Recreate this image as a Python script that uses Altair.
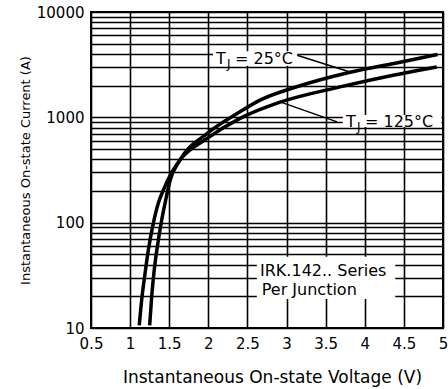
import altair as alt
import pandas as pd

# ---- data ----
v25 = [1.25, 1.276, 1.309, 1.348, 1.404, 1.455, 1.51, 1.638, 1.971, 2.405, 2.661, 3.13, 3.812, 4.451, 4.93]
i25 = [10.6, 20, 36, 59, 106, 164, 250, 394, 690, 1128, 1455, 1950, 2681, 3336, 3950]
v125 = [1.117, 1.148, 1.191, 1.233, 1.297, 1.361, 1.425, 1.536, 1.638, 1.971, 2.405, 2.917, 3.684, 4.362, 4.92]
i125 = [10.6, 18.5, 33, 55, 99, 154, 204, 303, 394, 621, 977, 1393, 1945, 2513, 3013]

x_ticks = [0.5, 1, 1.5, 2, 2.5, 3, 3.5, 4, 4.5, 5]
y_labels = [10, 100, 1000, 10000]
y_grid = [m * d for d in [10, 100, 1000] for m in range(1, 10)] + [10000]

FONT = "DejaVu Sans"

curves = pd.DataFrame(
    [{"V": v, "I": i, "s": "25"} for v, i in zip(v25, i25)]
    + [{"V": v, "I": i, "s": "125"} for v, i in zip(v125, i125)]
)

xs = alt.Scale(domain=[0.5, 5], nice=False, zero=False)
ys = alt.Scale(type="log", domain=[10, 10000], nice=False)

label_expr = "indexof([" + ",".join(str(v) for v in y_labels) + "], datum.value) >= 0 ? datum.label : ''"

xaxis = alt.Axis(
    values=x_ticks, format="~g", grid=True, ticks=False, domain=False, labelFlush=False,
    title="Instantaneous On-state Voltage (V)", titleX=181, titleY=49, titleBaseline="middle",
    titleFont=FONT, titleFontSize=17, titleFontWeight="normal", titleColor="black",
    labelFont=FONT, labelFontSize=15, labelColor="black", labelPadding=8,
    gridColor="black", gridWidth=1.6, gridOpacity=1)
yaxis = alt.Axis(
    values=y_grid, format="d", labelExpr=label_expr, grid=True, ticks=False, domain=False,
    labelFlush=False,
    title="Instantaneous On-state Current (A)", titleX=-66, titleY=158, titleAngle=270,
    titleAlign="center", titleBaseline="middle",
    titleFont=FONT, titleFontSize=13, titleFontWeight="normal", titleColor="black",
    labelFont=FONT, labelFontSize=15, labelColor="black", labelPadding=7,
    labelOverlap=False, gridColor="black", gridWidth=1.6, gridOpacity=1)

lines = alt.Chart(curves).mark_line(color="black", strokeWidth=3.5, interpolate="monotone", clip=True).encode(
    x=alt.X("V:Q", scale=xs, axis=xaxis),
    y=alt.Y("I:Q", scale=ys, axis=yaxis),
    detail="s:N",
    order="V:Q",
)

boxes = pd.DataFrame([
    {"x": 2.06, "x2": 3.14, "y": 3080, "y2": 4240},
    {"x": 3.72, "x2": 4.98, "y": 810, "y2": 1050},
    {"x": 2.62, "x2": 4.39, "y": 18.9, "y2": 47.5},
])
rects = alt.Chart(boxes).mark_rect(color="white").encode(
    x=alt.X("x:Q", scale=xs, axis=xaxis), x2="x2:Q",
    y=alt.Y("y:Q", scale=ys, axis=yaxis), y2="y2:Q",
)

leaders = pd.DataFrame([
    {"x": 3.134, "y": 3890, "x2": 3.812, "y2": 2699},
    {"x": 3.646, "y": 906, "x2": 2.917, "y2": 1403},
])
rules = alt.Chart(leaders).mark_rule(color="black", strokeWidth=1.5).encode(
    x=alt.X("x:Q", scale=xs, axis=xaxis), x2="x2:Q",
    y=alt.Y("y:Q", scale=ys, axis=yaxis), y2="y2:Q",
)

tlabels = pd.DataFrame([
    {"x": 2.098, "y": 3597, "rest": "= 25°C"},
    {"x": 3.76, "y": 906, "rest": "= 125°C"},
])
base_t = alt.Chart(tlabels).encode(
    x=alt.X("x:Q", scale=xs, axis=xaxis), y=alt.Y("y:Q", scale=ys, axis=yaxis))
t_T = base_t.mark_text(align="left", baseline="middle", font=FONT, fontSize=16, color="black").encode(text=alt.value("T"))
t_J = base_t.mark_text(align="left", baseline="middle", font=FONT, fontSize=12, color="black", dx=11, dy=5).encode(text=alt.value("J"))
t_rest = base_t.mark_text(align="left", baseline="middle", font=FONT, fontSize=16, color="black", dx=19).encode(text="rest:N")

notes = pd.DataFrame([
    {"x": 2.661, "y": 34.4, "t": "IRK.142.. Series"},
    {"x": 2.683, "y": 23.1, "t": "Per Junction"},
])
t_notes = alt.Chart(notes).mark_text(align="left", baseline="middle", font=FONT, fontSize=16, color="black").encode(
    x=alt.X("x:Q", scale=xs, axis=xaxis), y=alt.Y("y:Q", scale=ys, axis=yaxis), text="t:N")

chart = alt.layer(lines, rects, rules, t_T, t_J, t_rest, t_notes).properties(
    width=352, height=316,
    padding={"left": 91, "top": 12, "right": 5, "bottom": 61},
    autosize=alt.AutoSizeParams(type="none"),
    background="white",
).configure_view(stroke="black", strokeWidth=2)

chart.save("out.html", embed_options={"renderer": "svg", "actions": False})
